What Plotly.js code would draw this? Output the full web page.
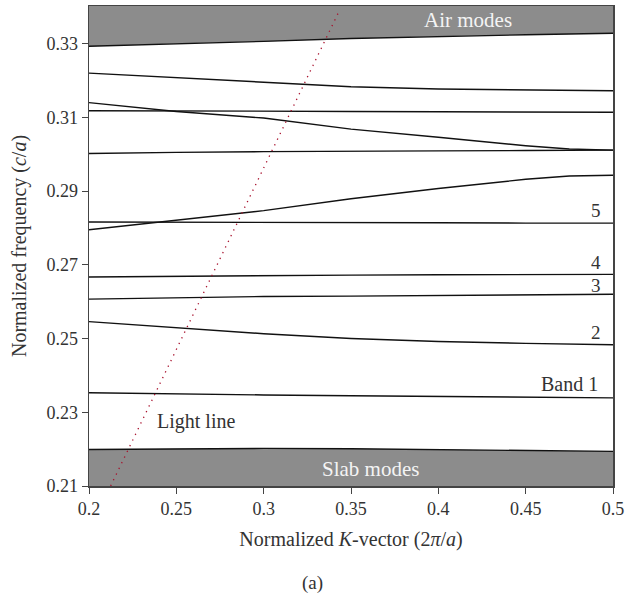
<!DOCTYPE html>
<html><head><meta charset="utf-8">
<script src="https://cdn.plot.ly/plotly-3.0.1.min.js"></script>
<style>body{margin:0;background:#fff}#chart{width:628px;height:596px}</style>
</head><body><div id="chart"></div>
<script>
// Normalized K-vector sample points
const kVec = [0.2, 0.225, 0.25, 0.3, 0.35, 0.4, 0.45, 0.475, 0.5];
// Boundaries of mode continua
const airEdge  = [0.3293, 0.3296, 0.3300, 0.3306, 0.3314, 0.3320, 0.3324, 0.3326, 0.3328];
const slabEdge = [0.2199, 0.2200, 0.2201, 0.2202, 0.2201, 0.2199, 0.2196, 0.2195, 0.2194];
// Guided bands (bottom to top)
const band1 = [0.2353, 0.2351, 0.2350, 0.2347, 0.2345, 0.2343, 0.2341, 0.2340, 0.2339];
const band2 = [0.2546, 0.2538, 0.2531, 0.2513, 0.2500, 0.2492, 0.2487, 0.2485, 0.2483];
const band3 = [0.2607, 0.2609, 0.2612, 0.2614, 0.2615, 0.2616, 0.2618, 0.2619, 0.2620];
const band4 = [0.2667, 0.2668, 0.2670, 0.2671, 0.2672, 0.2673, 0.2673, 0.2674, 0.2674];
const band5 = [0.2816, 0.2816, 0.2815, 0.2815, 0.2814, 0.2814, 0.2813, 0.2813, 0.2813];
const band6 = [0.2795, 0.2808, 0.2820, 0.2847, 0.2879, 0.2907, 0.2932, 0.2941, 0.2943];
const band7 = [0.3002, 0.3004, 0.3005, 0.3007, 0.3009, 0.3009, 0.3010, 0.3010, 0.3011];
const band8 = [0.3140, 0.3127, 0.3116, 0.3098, 0.3068, 0.3046, 0.3023, 0.3014, 0.3011];
const band9 = [0.3118, 0.3118, 0.3117, 0.3116, 0.3116, 0.3115, 0.3115, 0.3114, 0.3114];
const band10 = [0.3220, 0.3214, 0.3208, 0.3195, 0.3183, 0.3177, 0.3174, 0.3173, 0.3172];
// Light line
const lightK = [0.2124, 0.3433];
const lightF = [0.21, 0.3389];
// Axis
const yMin = 0.21, yMax = 0.3402;
const xTicks = [0.2, 0.25, 0.3, 0.35, 0.4, 0.45, 0.5];
const xTickText = ['0.2', '0.25', '0.3', '0.35', '0.4', '0.45', '0.5'];
const yTicks = [0.21, 0.23, 0.25, 0.27, 0.29, 0.31, 0.33];
const yTickText = ['0.21', '0.23', '0.25', '0.27', '0.29', '0.31', '0.33'];

const FONT = 'Liberation Serif, DejaVu Serif, serif';
const rev = a => a.slice().reverse();
const traces = [];
// Air modes band
traces.push({x: kVec.concat(rev(kVec)), y: kVec.map(() => yMax + 0.001).concat(rev(airEdge)),
  fill: 'toself', fillcolor: '#8c8c8c', mode: 'none', hoverinfo: 'skip'});
// Slab modes band
traces.push({x: kVec.concat(rev(kVec)), y: slabEdge.concat(kVec.map(() => yMin - 0.001)),
  fill: 'toself', fillcolor: '#8c8c8c', mode: 'none', hoverinfo: 'skip'});
[airEdge, slabEdge, band1, band2, band3, band4, band5, band6, band7, band8, band9, band10].forEach(b => {
  traces.push({x: kVec, y: b, mode: 'lines', line: {color: '#111', width: 1.4}, hoverinfo: 'skip'});
});
traces.push({x: lightK, y: lightF, mode: 'lines', line: {color: '#a8102c', width: 1.3, dash: '1.3px,5px'}, hoverinfo: 'skip'});

const ann = (text, x, y, size, color) => ({text, x, y, xref: 'x', yref: 'y', showarrow: false,
  xanchor: 'center', yanchor: 'middle',
  font: {family: FONT, size: size || 20, color: color || '#333'}});
const layout = {
  width: 628, height: 596,
  margin: {l: 89, r: 15, t: 6, b: 110},
  paper_bgcolor: '#fff', plot_bgcolor: '#fff',
  showlegend: false,
  font: {family: FONT, size: 18, color: '#333'},
  xaxis: {range: [0.2, 0.5], tickvals: xTicks, ticktext: xTickText, ticks: 'outside', ticklen: 6,
    tickcolor: '#444', showline: true, linecolor: '#444', linewidth: 1.5, mirror: true, showgrid: false,
    zeroline: false, tickfont: {family: FONT, size: 18, color: '#333'},
    title: {text: 'Normalized <i>K</i>-vector (2<i>π</i>/<i>a</i>)', font: {family: FONT, size: 20, color: '#333'}, standoff: 14}},
  yaxis: {range: [yMin, yMax], tickvals: yTicks, ticktext: yTickText, ticks: 'outside', ticklen: 6,
    tickcolor: '#444', showline: true, linecolor: '#444', linewidth: 1.5, mirror: true, showgrid: false,
    zeroline: false, tickfont: {family: FONT, size: 18, color: '#333'},
    title: {text: 'Normalized frequency (<i>c</i>/<i>a</i>)', font: {family: FONT, size: 20, color: '#333'}, standoff: 14}},
  annotations: [
    ann('Air modes', 0.4167, 0.3363, 21, '#f4f4f4'),
    ann('Slab modes', 0.3614, 0.2147, 21, '#f4f4f4'),
    ann('Light line', 0.2613, 0.2275),
    ann('Band 1', 0.4751, 0.2377),
    ann('2', 0.4903, 0.2516, 19),
    ann('3', 0.4903, 0.2645, 19),
    ann('4', 0.4903, 0.2706, 19),
    ann('5', 0.4903, 0.2846, 19),
    {text: '(a)', x: 0.427, y: -0.203, xref: 'paper', yref: 'paper', showarrow: false,
      xanchor: 'center', yanchor: 'middle', font: {family: FONT, size: 19, color: '#333'}}
  ]
};
Plotly.newPlot('chart', traces, layout, {staticPlot: true});
</script></body></html>
